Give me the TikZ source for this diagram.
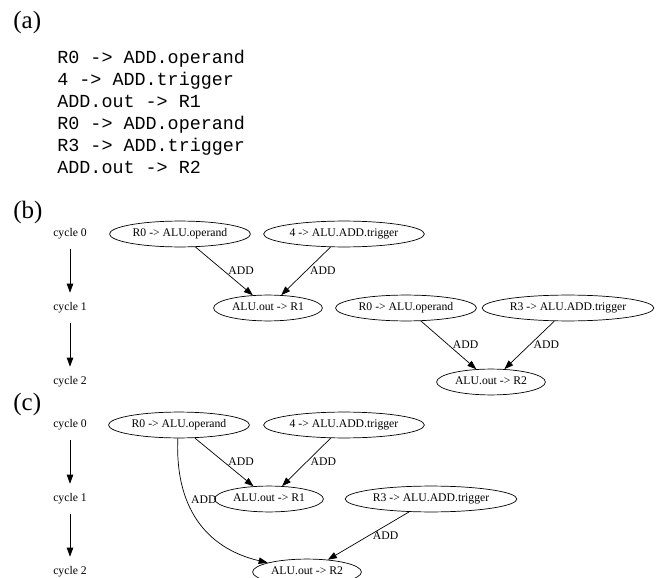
\documentclass[tikz,border=0pt]{standalone}
\usepackage{fontspec}
\setmainfont{Liberation Serif}
\setmonofont{Liberation Mono}
\usetikzlibrary{shapes.geometric,arrows.meta}

\begin{document}
\begin{tikzpicture}[x=1pt, y=-1pt, font=\fontsize{11.7}{14}\selectfont, >={Triangle[length=9pt,width=6.5pt]}, line width=0.7pt]
	\tikzstyle{vertex} = [ellipse, draw=black, inner xsep=2.5pt, inner ysep=3.9pt, text height=8pt, text depth=2.5pt]
	\tikzstyle{cyc} = [minimum height=30pt, inner sep=0pt]
	\tikzstyle{flow} = [->]
	\tikzstyle{lbl} = [right, inner sep=4pt]
	\tikzstyle{part} = [font=\fontsize{25}{30}\selectfont, anchor=west, inner sep=0pt]
	\tikzstyle{code} = [font=\ttfamily\fontsize{18.4}{22}\selectfont, anchor=base west, inner sep=0pt]

	\useasboundingbox (0,0) rectangle (665,578);

%----------(a): the program------------------------------
	\node[part] (pa) at (13,22) {(a)};

	\node[code] (l1) at (57,64) {R0 -> ADD.operand};
	\node[code] (l2) at (57,86) {4 -> ADD.trigger};
	\node[code] (l3) at (57,108) {ADD.out -> R1};
	\node[code] (l4) at (57,130) {R0 -> ADD.operand};
	\node[code] (l5) at (57,152) {R3 -> ADD.trigger};
	\node[code] (l6) at (57,174) {ADD.out -> R2};

%----------(b)------------------------------------------
	\node[part] (pb) at (13,212) {(b)};

	\node[cyc] (b0) at (70,234) {cycle 0};
	\node[cyc] (b1) at (70,308) {cycle 1};
	\node[cyc] (b2) at (70,382) {cycle 2};

	\draw[flow] (b0) -- (b1);
	\draw[flow] (b1) -- (b2);

	\node[vertex] (b0op) at (180,234) {R0 -> ALU.operand};
	\node[vertex] (b0tr) at (344,234) {4 -> ALU.ADD.trigger};
	\node[vertex] (b1r1) at (268,308) {ALU.out -> R1};

	\path[flow] (b0op) edge node[lbl] {ADD} (b1r1);
	\path[flow] (b0tr) edge node[lbl] {ADD} (b1r1);

	\node[vertex] (b1op) at (406,308) {R0 -> ALU.operand};
	\node[vertex] (b1tr) at (568,308) {R3 -> ALU.ADD.trigger};
	\node[vertex] (b2r2) at (491,382) {ALU.out -> R2};

	\path[flow] (b1op) edge node[lbl] {ADD} (b2r2);
	\path[flow] (b1tr) edge node[lbl] {ADD} (b2r2);

%----------(c)------------------------------------------
	\node[part] (pc) at (13,404) {(c)};

	\node[cyc] (c0) at (70,425) {cycle 0};
	\node[cyc] (c1) at (70,499) {cycle 1};
	\node[cyc] (c2) at (70,572) {cycle 2};

	\draw[flow] (c0) -- (c1);
	\draw[flow] (c1) -- (c2);

	\node[vertex] (c0op) at (179,425) {R0 -> ALU.operand};
	\node[vertex] (c0tr) at (344,425) {4 -> ALU.ADD.trigger};
	\node[vertex] (c1r1) at (269,499) {ALU.out -> R1};
	\node[vertex] (c1tr) at (431,499) {R3 -> ALU.ADD.trigger};
	\node[vertex] (c2r2) at (307,572) {ALU.out -> R2};

	\path[flow] (c0op) edge node[lbl] {ADD} (c1r1);
	\path[flow] (c0tr) edge node[lbl] {ADD} (c1r1);
	\path[flow] (c1tr) edge node[lbl] {ADD} (c2r2);

	%operand kept for two cycles
	\draw[flow] (c0op.265) .. controls +(-3,68) and +(-102,-24) .. (c2r2) node[pos=0.35, lbl] {ADD};

\end{tikzpicture}
\end{document}
